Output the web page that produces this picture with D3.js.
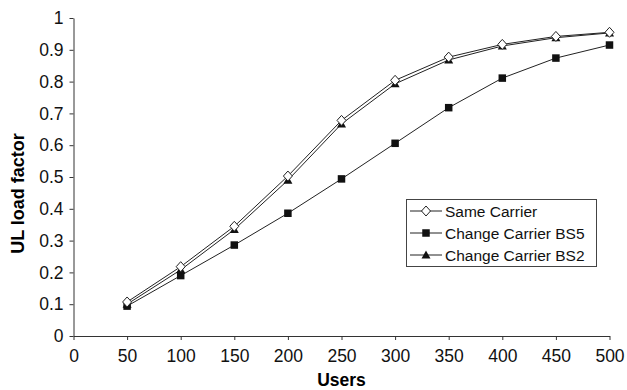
<html>
<script src="https://d3js.org/d3.v7.min.js"></script>
<body style="margin:0;background:#fff">
</body>
</html>

<script type="text/javascript">

// data
var users = [50, 100, 150, 200, 250, 300, 350, 400, 450, 500];
var sameCarrier = [0.107, 0.218, 0.345, 0.503, 0.678, 0.804, 0.877, 0.917, 0.942, 0.955];
var changeBS5 = [0.094, 0.19, 0.286, 0.386, 0.494, 0.606, 0.718, 0.811, 0.874, 0.915];
var changeBS2 = [0.1, 0.208, 0.335, 0.49, 0.667, 0.793, 0.868, 0.912, 0.938, 0.953];
var seriesNames = ["Same Carrier", "Change Carrier BS5", "Change Carrier BS2"];
var xTicks = [0, 50, 100, 150, 200, 250, 300, 350, 400, 450, 500];
var yTicks = [0, 0.1, 0.2, 0.3, 0.4, 0.5, 0.6, 0.7, 0.8, 0.9, 1];

var W = 627, H = 390;
var font = "'Liberation Sans', Arial, sans-serif";

var svg = d3.select("body")
	.append("svg")
	.attr("width", W)
	.attr("height", H)
	.style("font-family", font);

var x_scale = d3.scaleLinear().domain([0, 500]).range([73.5, 609.5]);
var y_scale = d3.scaleLinear().domain([0, 1]).range([336, 18]);

// x axis
var xAxis = svg.append("g")
	.attr("transform", "translate(0,336)")
	.call(d3.axisBottom(x_scale).tickValues(xTicks).tickSize(4).tickSizeOuter(0).tickFormat(d3.format("d")));
xAxis.select(".domain").attr("stroke", "#333");
xAxis.selectAll(".tick line").attr("stroke", "#333");
xAxis.selectAll("text").attr("font-size", 17.5).attr("font-family", font).attr("fill", "#111")
	.attr("y", 26).attr("dy", 0);

// y axis
var yAxis = svg.append("g")
	.attr("transform", "translate(73.5,0)")
	.call(d3.axisLeft(y_scale).tickValues(yTicks).tickSize(4).tickSizeOuter(0).tickFormat(function(d){ return d3.format("")(+d.toFixed(1)); }));
yAxis.select(".domain").attr("stroke", "#333");
yAxis.selectAll(".tick line").attr("stroke", "#333");
yAxis.selectAll("text").attr("font-size", 17.5).attr("font-family", font).attr("fill", "#111").attr("x", -10);

// axis titles
svg.append("text")
	.attr("x", x_scale(250)).attr("y", 386)
	.attr("text-anchor", "middle")
	.attr("font-size", 17.5).attr("font-weight", "bold")
	.text("Users");

svg.append("text")
	.attr("transform", "translate(24,193.5) rotate(-90)")
	.attr("text-anchor", "middle")
	.attr("font-size", 18).attr("font-weight", "bold")
	.text("UL load factor");

var line = d3.line()
	.x(function(d){ return x_scale(d[0]); })
	.y(function(d){ return y_scale(d[1]); });

function pts(vals) { return users.map(function(u, i){ return [u, vals[i]]; }); }

var allSeries = [pts(changeBS5), pts(changeBS2), pts(sameCarrier)];
var kinds = ["square", "triangle", "diamond"];

allSeries.forEach(function(data) {
	svg.append("path")
		.datum(data)
		.attr("fill", "none")
		.attr("stroke", "#222")
		.attr("stroke-width", 1)
		.attr("d", line);
});

function marker(g, kind, cx, cy) {
	if (kind == "square") {
		g.append("rect").attr("x", cx - 3.75).attr("y", cy - 3.75).attr("width", 7.5).attr("height", 7.5).attr("fill", "#111");
	} else if (kind == "triangle") {
		g.append("path").attr("d", "M" + cx + "," + (cy - 4.5) + "L" + (cx + 4.5) + "," + (cy + 3.5) + "L" + (cx - 4.5) + "," + (cy + 3.5) + "Z").attr("fill", "#111");
	} else {
		g.append("path").attr("d", "M" + cx + "," + (cy - 5) + "L" + (cx + 4.5) + "," + cy + "L" + cx + "," + (cy + 5) + "L" + (cx - 4.5) + "," + cy + "Z")
			.attr("fill", "#fff").attr("stroke", "#222").attr("stroke-width", 1);
	}
}

allSeries.forEach(function(data, i) {
	var g = svg.append("g");
	data.forEach(function(d){ marker(g, kinds[i], x_scale(d[0]), y_scale(d[1])); });
});

// legend
var lg = svg.append("g");
lg.append("rect").attr("x", 406.5).attr("y", 199.5).attr("width", 190).attr("height", 67)
	.attr("fill", "#fff").attr("stroke", "#444").attr("stroke-width", 1);
var legendKinds = ["diamond", "square", "triangle"];
seriesNames.forEach(function(name, i) {
	var yy = 211 + i * 22;
	lg.append("line").attr("x1", 410).attr("x2", 442).attr("y1", yy).attr("y2", yy).attr("stroke", "#222");
	marker(lg, legendKinds[i], 426, yy);
	lg.append("text").attr("x", 445).attr("y", yy + 5.5).attr("font-size", 15.5).attr("fill", "#111").text(name);
});
</script>
